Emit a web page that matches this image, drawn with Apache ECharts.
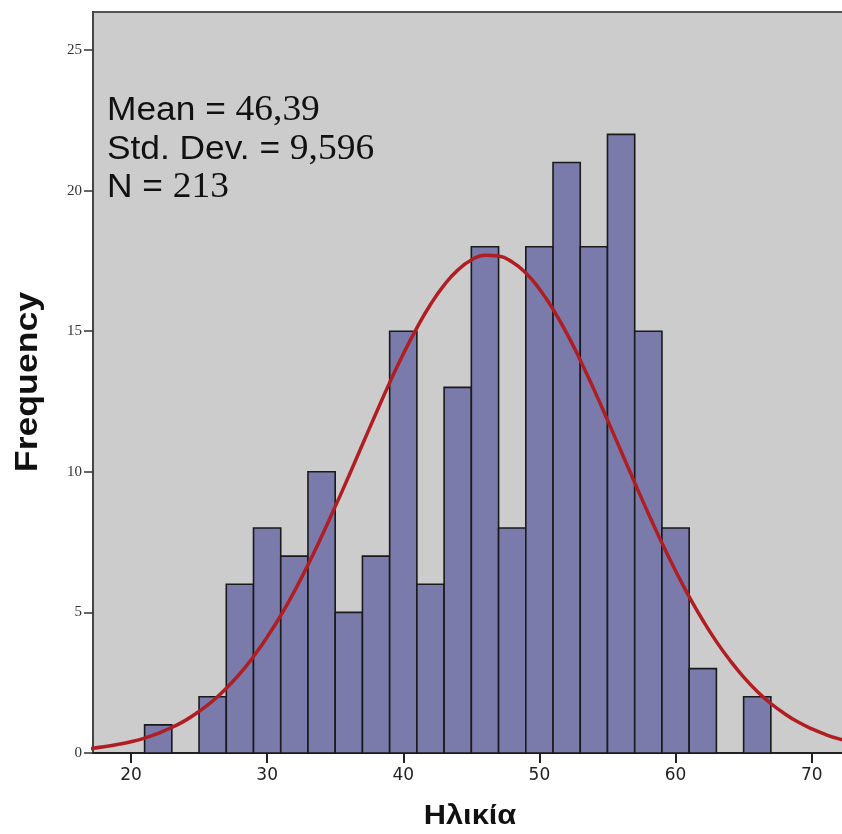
<!DOCTYPE html>
<html>
<head>
<meta charset="utf-8">
<script src="https://cdn.jsdelivr.net/npm/echarts@6/dist/echarts.min.js"></script>
<style>
  html, body { margin: 0; padding: 0; background: #ffffff; }
  #chart { width: 842px; height: 834px; }
</style>
</head>
<body>
<div id="chart"></div>
<script>
// Age histogram (bin width 2) with fitted normal curve
const binStarts = [21, 23, 25, 27, 29, 31, 33, 35, 37, 39, 41, 43, 45, 47, 49, 51, 53, 55, 57, 59, 61, 63, 65];
const binWidth = 2;
const frequencies = [1, 0, 2, 6, 8, 7, 10, 5, 7, 15, 6, 13, 18, 8, 18, 21, 18, 22, 15, 8, 3, 0, 2];

// Normal curve heights (frequency scale), one point per year of age
const curveX = [17, 18, 19, 20, 21, 22, 23, 24, 25, 26, 27, 28, 29, 30, 31, 32, 33, 34, 35, 36, 37, 38, 39, 40, 41, 42, 43, 44, 45,
                46, 47, 48, 49, 50, 51, 52, 53, 54, 55, 56, 57, 58, 59, 60, 61, 62, 63, 64, 65, 66, 67, 68, 69, 70, 71, 72, 73];
const curveY = [0.16, 0.22, 0.30, 0.40, 0.53, 0.70, 0.91, 1.16, 1.48, 1.85, 2.30, 2.82, 3.43, 4.12, 4.89, 5.75, 6.69, 7.70, 8.76,
                9.85, 10.97, 12.08, 13.17, 14.19, 15.12, 15.95, 16.64, 17.17, 17.53, 17.70, 17.67, 17.46, 17.07, 16.50, 15.78,
                14.93, 13.97, 12.93, 11.84, 10.73, 9.61, 8.52, 7.47, 6.48, 5.56, 4.72, 3.96, 3.29, 2.70, 2.19, 1.76, 1.40, 1.10,
                0.86, 0.66, 0.50, 0.38];

const xTicks = [20, 30, 40, 50, 60, 70];
const yTicks = [0, 5, 10, 15, 20, 25];

const xTitle = 'Ηλικία';
const yTitle = 'Frequency';
const statLines = [
  ['Mean = ', '46,39'],
  ['Std. Dev. = ', '9,596'],
  ['N = ', '213']
];

const barData = binStarts.map((s, i) => [s, s + binWidth, frequencies[i]]).filter(d => d[2] > 0);
const curveData = curveX.map((x, i) => [x, curveY[i]]);

const chart = echarts.init(document.getElementById('chart'));

chart.setOption({
  animation: false,
  backgroundColor: '#ffffff',
  grid: {
    left: 93, right: -10, top: 12, bottom: 81,
    outerBoundsMode: 'none',
    containLabel: false,
    show: true,
    backgroundColor: '#cccccc',
    borderColor: '#555555',
    borderWidth: 2
  },
  xAxis: {
    type: 'value',
    min: 17.21,
    max: 72.96,
    axisLine: { show: true, onZero: false, lineStyle: { color: '#222222', width: 2 } },
    axisTick: { show: true, length: 10, customValues: xTicks, lineStyle: { color: '#222222', width: 2 } },
    axisLabel: { customValues: xTicks, margin: 14, fontFamily: 'DejaVu Sans', fontSize: 17, color: '#222222' },
    splitLine: { show: false }
  },
  yAxis: {
    type: 'value',
    min: 0,
    max: 26.35,
    axisLine: { show: true, lineStyle: { color: '#444444', width: 2 } },
    axisTick: { show: true, length: 9, customValues: yTicks, lineStyle: { color: '#333333', width: 1.5 } },
    axisLabel: { customValues: yTicks, margin: 11, fontFamily: 'Liberation Serif', fontSize: 15, color: '#333333' },
    splitLine: { show: false }
  },
  graphic: [
    {
      type: 'text',
      x: 107,
      y: 92,
      scaleX: 1.07,
      style: {
        text: statLines.map(l => '{a|' + l[0] + '}{b|' + l[1] + '}').join('\n'),
        rich: {
          a: { fontFamily: 'Liberation Sans', fontSize: 33, lineHeight: 38.5, fill: '#111111' },
          b: { fontFamily: 'Liberation Serif', fontSize: 35, lineHeight: 38.5, fill: '#111111' }
        }
      },
      z: 10
    },
    {
      type: 'text',
      x: 28,
      y: 382,
      rotation: Math.PI / 2,
      scaleX: 1.15,
      style: {
        text: yTitle,
        fontFamily: 'Liberation Sans',
        fontWeight: 'bold',
        fontSize: 31,
        fill: '#111111',
        align: 'center',
        verticalAlign: 'middle'
      },
      z: 10
    },
    {
      type: 'text',
      x: 470,
      y: 816,
      scaleX: 1.1,
      style: {
        text: xTitle,
        fontFamily: 'Liberation Sans',
        fontWeight: 'bold',
        fontSize: 28,
        fill: '#111111',
        align: 'center',
        verticalAlign: 'middle'
      },
      z: 10
    }
  ],
  series: [
    {
      type: 'custom',
      data: barData,
      encode: { x: [0, 1], y: 2 },
      renderItem: function (params, api) {
        const p0 = api.coord([api.value(0), api.value(2)]);
        const p1 = api.coord([api.value(1), 0]);
        return {
          type: 'rect',
          shape: { x: p0[0], y: p0[1], width: p1[0] - p0[0], height: p1[1] - p0[1] },
          style: { fill: '#7a7aab', stroke: '#1a1a1a', lineWidth: 1.6 }
        };
      },
      z: 2
    },
    {
      type: 'line',
      data: curveData,
      smooth: true,
      showSymbol: false,
      lineStyle: { color: '#b01e23', width: 3.5 },
      z: 3
    }
  ]
});
</script>
</body>
</html>
